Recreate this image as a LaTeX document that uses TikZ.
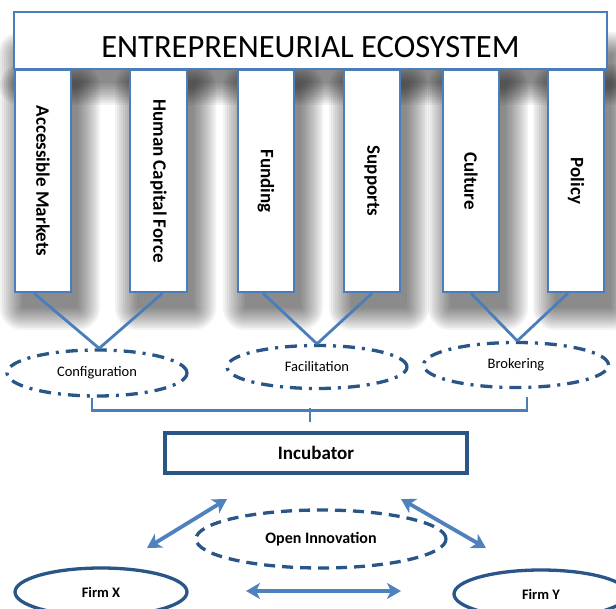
\documentclass[tikz,border=0pt]{standalone}
\usepackage{fontspec}
\setmainfont{Carlito}
\usetikzlibrary{shapes.geometric,arrows.meta,calc}
\definecolor{colblue}{HTML}{4A7EBB}
\definecolor{dkblue}{HTML}{2A5587}
\definecolor{arblue}{HTML}{4F81BD}
\begin{document}
\begin{tikzpicture}[x=1pt,y=-1pt,
  titlebox/.style={draw=colblue, line width=2.5pt, fill=white, minimum width=593pt, minimum height=57pt, inner sep=0pt, text height=40pt, text depth=6pt, font=\fontsize{32.5}{33}\selectfont},
  colbox/.style={draw=colblue, line width=2.5pt, fill=white, rotate=-90, minimum width=222pt, minimum height=56pt, inner sep=0pt, font=\bfseries\fontsize{19}{19}\selectfont},
  dashdotell/.style={ellipse, draw=dkblue, line width=3.3pt, dash pattern=on 12pt off 7pt on 3pt off 7pt, inner sep=0pt, font=\fontsize{14.5}{15}\selectfont},
  dashell/.style={ellipse, draw=dkblue, line width=3.3pt, dash pattern=on 11pt off 7pt, inner sep=0pt, font=\bfseries\fontsize{16}{16}\selectfont},
  firmell/.style={ellipse, draw=dkblue, line width=3.3pt, fill=white, inner sep=0pt, font=\bfseries\fontsize{14.5}{15}\selectfont},
  incbox/.style={draw=dkblue, line width=3.5pt, fill=white, minimum width=302pt, minimum height=40pt, inner sep=0pt, font=\bfseries\fontsize{19}{19}\selectfont},
  conn/.style={draw=colblue, line width=2.8pt},
  dblarrow/.style={draw=arblue, line width=3.8pt, {Stealth[length=14pt,width=16pt,inset=4pt]}-{Stealth[length=14pt,width=16pt,inset=4pt]}},
  shadowlayer/.style={fill=black, opacity=0.048}
]
\useasboundingbox (0,0) rectangle (616,609);
\fill[white] (0,0) rectangle (616,609);

% soft shadows
\foreach \r in {0,2,...,22} {
  \fill[shadowlayer, rounded corners=\r pt] (14+6-\r,40+14-\r) rectangle (607+6+\r,69+14+\r);
}
\foreach \xa/\xb in {15/71,130/187,238/294,344/400,443/499,548/604} {
  \foreach \r in {0,2,...,22} {
    \fill[shadowlayer, rounded corners=\r pt] (\xa+7-\r,70+16-\r) rectangle (\xb+7+\r,292+16+\r);
  }
}

% pillars
\node[colbox] (am)  at (43,181)    {Accessible Markets};
\node[colbox, minimum height=57pt] (hcf) at (158.5,181) {Human Capital Force};
\node[colbox] (fun) at (266,181)   {Funding};
\node[colbox] (sup) at (372,181)   {Supports};
\node[colbox] (cul) at (471,181)   {Culture};
\node[colbox] (pol) at (576,181)   {Policy};

% title
\node[titlebox] (eco) at (310.5,40.5) {ENTREPRENEURIAL ECOSYSTEM};

% ellipses
\node[dashdotell, minimum width=180pt, minimum height=46pt] (conf) at (97,373) {Configuration};
\node[dashdotell, minimum width=180pt, minimum height=43pt] (faci) at (317,367) {Facilitation};
\node[dashdotell, minimum width=185pt, minimum height=45pt] (brok) at (516,365) {Brokering};

% V connectors
\draw[conn] ($(am.east)+(-9,0)$) -- (conf.85);
\draw[conn] ($(hcf.east)+(4,0)$) -- (conf.85);
\draw[conn] ($(fun.east)+(-3,0)$) -- (faci.north);
\draw[conn] (sup.east) -- (faci.north);
\draw[conn] (cul.east) -- (brok.87);
\draw[conn] ($(pol.east)+(-8,0)$) -- (brok.87);

% bracket
\node[incbox] (inc) at (316,453) {Incubator};
\coordinate (stemtop) at (310,408.5);
\draw[conn] ($(conf.south)+(-5,0)$) |- ($(brok.south)+(11,21)$) -- ++(0,-13);
\draw[conn] (stemtop) -- ($(inc.north)+(-6,-9)$);

% open innovation
\node[dashell, minimum width=250pt, minimum height=58pt] (oi) at (321,539) {Open Innovation};
\node[firmell, minimum width=172pt, minimum height=48pt] (fx) at (101,592) {Firm X};
\node[firmell, minimum width=174pt, minimum height=48pt] (fy) at (541,594) {Firm Y};

\coordinate (a1) at (227,499);
\coordinate (a2) at (147,548);
\coordinate (b1) at (401,499);
\coordinate (b2) at (486,548);
\coordinate (c1) at (246,591);
\coordinate (c2) at (401,591);
\draw[dblarrow] (a1) -- (a2);
\draw[dblarrow] (b1) -- (b2);
\draw[dblarrow] (c1) -- (c2);
\end{tikzpicture}
\end{document}
